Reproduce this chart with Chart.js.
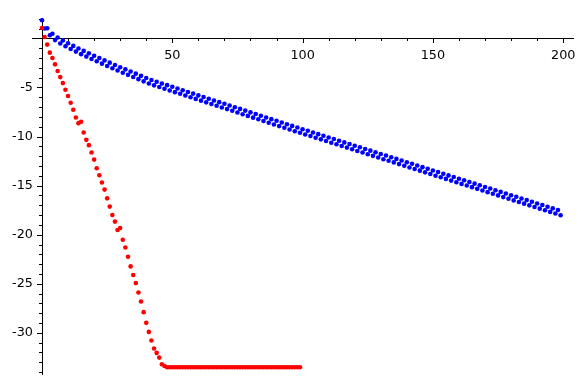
<!DOCTYPE html>
<html>
<head>
<meta charset="utf-8">
<script src="https://cdn.jsdelivr.net/npm/chart.js@4.4.0/dist/chart.umd.min.js"></script>
<style>
  html, body { margin: 0; padding: 0; background: #fff; }
  #wrap { width: 587px; height: 387px; }
</style>
</head>
<body>
<div id="wrap"><canvas id="chart" width="587" height="387"></canvas></div>
<script>
// red series, x = 0 .. 99
const redY = [
    1.05, 0.13, -0.64, -1.46, -2.00, -2.65, -3.33, -3.95, -4.56, -5.24,
    -5.88, -6.56, -7.28, -8.06, -8.64, -8.50, -9.59, -10.34, -10.88, -11.63,
    -12.35, -13.23, -13.95, -14.69, -15.41, -16.30, -17.14, -17.99, -18.67, -19.52,
    -19.32, -20.51, -21.30, -22.24, -23.23, -24.11, -24.93, -25.89, -26.81, -27.89,
    -28.98, -29.90, -30.78, -31.60, -32.04, -32.52, -33.19, -33.37, -33.50, -33.50,
    -33.50, -33.50, -33.50, -33.50, -33.50, -33.50, -33.50, -33.50, -33.50, -33.50,
    -33.50, -33.50, -33.50, -33.50, -33.50, -33.50, -33.50, -33.50, -33.50, -33.50,
    -33.50, -33.50, -33.50, -33.50, -33.50, -33.50, -33.50, -33.50, -33.50, -33.50,
    -33.50, -33.50, -33.50, -33.50, -33.50, -33.50, -33.50, -33.50, -33.50, -33.50,
    -33.50, -33.50, -33.50, -33.50, -33.50, -33.50, -33.50, -33.50, -33.50, -33.50
];

// blue series, x = 0, 2, 4 .. 198
const blueEvenY = [
    1.84, 1.02, 0.46, 0.08, -0.22, -0.50, -0.77, -1.03, -1.28, -1.53,
    -1.77, -2.01, -2.25, -2.48, -2.71, -2.94, -3.16, -3.38, -3.60, -3.82,
    -4.04, -4.25, -4.42, -4.60, -4.77, -4.94, -5.11, -5.29, -5.46, -5.63,
    -5.81, -5.98, -6.15, -6.33, -6.50, -6.67, -6.84, -7.02, -7.19, -7.36,
    -7.54, -7.71, -7.88, -8.06, -8.23, -8.40, -8.57, -8.75, -8.92, -9.09,
    -9.26, -9.42, -9.59, -9.76, -9.93, -10.10, -10.26, -10.43, -10.60, -10.77,
    -10.94, -11.10, -11.27, -11.44, -11.61, -11.78, -11.94, -12.11, -12.28, -12.45,
    -12.62, -12.78, -12.95, -13.12, -13.29, -13.46, -13.62, -13.79, -13.96, -14.13,
    -14.30, -14.46, -14.63, -14.80, -14.97, -15.14, -15.30, -15.47, -15.64, -15.81,
    -15.98, -16.14, -16.31, -16.48, -16.65, -16.82, -16.98, -17.15, -17.32, -17.49
];

// blue series, x = 1, 3, 5 .. 199
const blueOddY = [
    1.00, 0.31, -0.18, -0.52, -0.81, -1.09, -1.35, -1.61, -1.86, -2.10,
    -2.34, -2.58, -2.82, -3.05, -3.28, -3.50, -3.72, -3.94, -4.16, -4.38,
    -4.60, -4.79, -4.96, -5.14, -5.31, -5.48, -5.65, -5.83, -6.00, -6.17,
    -6.35, -6.52, -6.69, -6.87, -7.04, -7.21, -7.38, -7.56, -7.73, -7.90,
    -8.08, -8.25, -8.42, -8.60, -8.77, -8.94, -9.11, -9.29, -9.46, -9.62,
    -9.79, -9.95, -10.12, -10.29, -10.46, -10.63, -10.79, -10.96, -11.13, -11.30,
    -11.47, -11.63, -11.80, -11.97, -12.14, -12.31, -12.47, -12.64, -12.81, -12.98,
    -13.15, -13.31, -13.48, -13.65, -13.82, -13.99, -14.15, -14.32, -14.49, -14.66,
    -14.83, -14.99, -15.16, -15.33, -15.50, -15.67, -15.83, -16.00, -16.17, -16.34,
    -16.51, -16.67, -16.84, -17.01, -17.18, -17.35, -17.51, -17.68, -17.85, -18.02
];

// axis ticks
const xMajorTicks = [50, 100, 150, 200];
const xMinorTicks = [10, 20, 30, 40, 50, 60, 70, 80, 90, 100,
    110, 120, 130, 140, 150, 160, 170, 180, 190, 200];
const yMajorTicks = [-5, -10, -15, -20, -25, -30];
const yMinorTicks = [2, 1, -1, -2, -3, -4, -5, -6, -7, -8, -9, -10, -11, -12,
    -13, -14, -15, -16, -17, -18, -19, -20, -21, -22, -23, -24, -25, -26,
    -27, -28, -29, -30, -31, -32, -33, -34];

const redPoints = redY.map((y, i) => ({ x: i, y: y }));
const bluePoints = [];
blueEvenY.forEach((y, i) => {
    bluePoints.push({ x: 2 * i, y: y });
    bluePoints.push({ x: 2 * i + 1, y: blueOddY[i] });
});

const labelFont = { family: 'DejaVu Sans', size: 12.8 };

// tick marks on both axes (major ones a bit longer) and the y tick labels,
// which chart.js would otherwise glue right onto an axis placed at x = 0
const tickMarks = {
    id: 'tickMarks',
    beforeDatasetsDraw(chart) {
        const ctx = chart.ctx;
        const xs = chart.scales.x, ys = chart.scales.y;
        const x0 = Math.round(xs.getPixelForValue(0));
        const y0 = Math.round(ys.getPixelForValue(0));
        ctx.save();
        ctx.strokeStyle = '#000';
        ctx.lineWidth = 1;
        ctx.beginPath();
        xMinorTicks.forEach(v => {
            const px = Math.round(xs.getPixelForValue(v)) + 0.5;
            const len = xMajorTicks.includes(v) ? 5 : 3;
            ctx.moveTo(px, y0);
            ctx.lineTo(px, y0 + len);
        });
        yMinorTicks.forEach(v => {
            const py = Math.round(ys.getPixelForValue(v)) + 0.5;
            const len = yMajorTicks.includes(v) ? 5 : 3;
            ctx.moveTo(x0, py);
            ctx.lineTo(x0 - len, py);
        });
        ctx.stroke();

        ctx.fillStyle = '#000';
        ctx.font = labelFont.size + 'px "' + labelFont.family + '"';
        ctx.textAlign = 'right';
        ctx.textBaseline = 'middle';
        yMajorTicks.forEach(v => {
            ctx.fillText(String(v), x0 - 9, ys.getPixelForValue(v));
        });
        ctx.restore();
    }
};

new Chart(document.getElementById('chart'), {
    type: 'scatter',
    data: {
        datasets: [
            {
                data: redPoints,
                pointBackgroundColor: '#ff0000',
                pointBorderWidth: 0,
                pointRadius: 2.3,
                showLine: false
            },
            {
                data: bluePoints,
                pointBackgroundColor: '#0000ff',
                pointBorderWidth: 0,
                pointRadius: 2.3,
                showLine: false
            }
        ]
    },
    options: {
        responsive: false,
        animation: false,
        layout: { padding: { left: 32, right: 14, top: 18, bottom: 13 } },
        plugins: {
            legend: { display: false },
            tooltip: { enabled: false }
        },
        scales: {
            x: {
                type: 'linear',
                position: { y: 0 },
                min: -3.84,
                max: 203.76,
                grid: { display: false },
                border: { display: true, color: '#000', width: 1 },
                afterBuildTicks: scale => { scale.ticks = xMajorTicks.map(v => ({ value: v })); },
                ticks: {
                    color: '#000',
                    font: labelFont,
                    padding: 2,
                    autoSkip: false,
                    maxRotation: 0,
                    callback: v => String(v)
                }
            },
            y: {
                type: 'linear',
                position: { x: 0 },
                min: -34.19,
                max: 2.07,
                grid: { display: false },
                border: { display: true, color: '#000', width: 1 },
                afterBuildTicks: scale => { scale.ticks = yMajorTicks.map(v => ({ value: v })); },
                ticks: { display: false }
            }
        }
    },
    plugins: [tickMarks]
});
</script>
</body>
</html>
